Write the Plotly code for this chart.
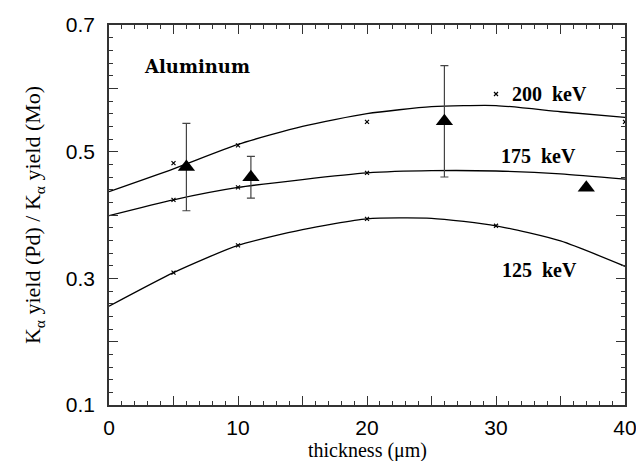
import plotly.graph_objects as go

# fitted curves
curve_x = [0, 5, 10, 15, 20, 25, 30, 35, 40]
curve_200 = [0.437, 0.473, 0.5115, 0.540, 0.560, 0.571, 0.5728, 0.563, 0.554]
curve_175 = [0.399, 0.424, 0.4435, 0.456, 0.4665, 0.470, 0.4695, 0.465, 0.4566]
curve_125 = [0.256, 0.309, 0.352, 0.377, 0.394, 0.3948, 0.383, 0.359, 0.319]

# simulation points (small x markers)
sim_x_200 = [5, 10, 20, 30, 40]
sim_y_200 = [0.482, 0.510, 0.547, 0.591, 0.547]
sim_x_175 = [5, 10, 20]
sim_y_175 = [0.424, 0.4435, 0.4665]
sim_x_125 = [5, 10, 20, 30]
sim_y_125 = [0.309, 0.352, 0.394, 0.383]

# experimental data
exp_x = [6, 11, 26, 37]
exp_y = [0.4757, 0.4595, 0.548, 0.443]
exp_err = [0.069, 0.033, 0.088, 0.0]

labels = ["200\u00a0\u00a0keV", "175\u00a0\u00a0keV", "125\u00a0\u00a0keV"]
label_x = [31.09, 30.26, 30.31]
label_y = [0.5915, 0.4924, 0.3132]

x_labeled_ticks = [0, 10, 20, 30, 40]
x_mid_ticks = [5, 15, 25, 35]
y_labeled_ticks = [0.1, 0.3, 0.5, 0.7]
y_mid_ticks = [0.2, 0.4, 0.6]

fig = go.Figure()
line_style = dict(color="black", width=1.3, shape="spline", smoothing=0.6)
for cy in (curve_200, curve_175, curve_125):
    fig.add_trace(go.Scatter(x=curve_x, y=cy, mode="lines", line=line_style,
                             hoverinfo="skip", showlegend=False))
for sx, sy in ((sim_x_200, sim_y_200), (sim_x_175, sim_y_175), (sim_x_125, sim_y_125)):
    fig.add_trace(go.Scatter(x=sx, y=sy, mode="markers",
                             marker=dict(symbol="x-thin", size=4,
                                         line=dict(color="black", width=1.2)),
                             showlegend=False))
fig.add_trace(go.Scatter(
    x=exp_x, y=exp_y, mode="markers",
    marker=dict(symbol="triangle-up", size=15, color="black"),
    error_y=dict(type="data", array=exp_err, visible=True, color="#444444",
                 thickness=1.2, width=4),
    showlegend=False))
# empty trace to carry the overlay axes used for the unlabeled major ticks
fig.add_trace(go.Scatter(x=[None], y=[None], xaxis="x2", yaxis="y2",
                         mode="markers", showlegend=False, hoverinfo="skip"))

for t, lx, ly in zip(labels, label_x, label_y):
    fig.add_annotation(x=lx, y=ly, text="<b>" + t + "</b>", showarrow=False,
                       xanchor="left", yanchor="middle",
                       font=dict(family="Liberation Serif", size=20, color="black"))
fig.add_annotation(x=2.53, y=0.634, text="<b>Aluminum</b>", showarrow=False,
                   xanchor="left", yanchor="middle",
                   font=dict(family="DejaVu Serif", size=18, color="black"))

# axis titles
fig.add_annotation(xref="paper", yref="paper", x=0.5, y=-0.121,
                   text="thickness (\u03bcm)", showarrow=False,
                   xanchor="center", yanchor="middle",
                   font=dict(family="Liberation Serif", size=20, color="black"))
fig.add_annotation(xref="paper", yref="paper", x=-0.1453, y=0.5,
                   text="K<sub>\u03b1</sub> yield (Pd) / K<sub>\u03b1</sub> yield (Mo)",
                   textangle=-90, showarrow=False,
                   xanchor="center", yanchor="middle",
                   font=dict(family="Liberation Serif", size=22, color="black"))

fig.update_layout(
    width=644, height=461,
    margin=dict(l=101, r=27, t=17, b=64, autoexpand=False),
    plot_bgcolor="white", paper_bgcolor="white",
    font=dict(family="Liberation Sans", color="black"),
)
axis_common = dict(
    showgrid=False, zeroline=False, automargin=False,
    ticks="inside", ticklen=9, tickwidth=1.2, tickcolor="#333333",
    tickfont=dict(family="Liberation Sans", size=21, color="black"),
)
fig.update_layout(
    xaxis=dict(
        range=[0, 40], **axis_common,
        showline=True, linecolor="#333333", linewidth=1.5, mirror="ticks",
        tickvals=x_labeled_ticks, ticklabelstandoff=3,
        minor=dict(dtick=1, ticklen=4, tickcolor="#333333", ticks="inside", tickwidth=1.2),
    ),
    yaxis=dict(
        range=[0.1, 0.7], **axis_common,
        showline=True, linecolor="#333333", linewidth=1.5, mirror="ticks",
        tickvals=y_labeled_ticks, tickformat=".1f", ticklabelstandoff=8,
        minor=dict(dtick=0.02, ticklen=4, tickcolor="#333333", ticks="inside", tickwidth=1.2),
    ),
    xaxis2=dict(
        range=[0, 40], overlaying="x", anchor="y2", **axis_common,
        showline=False, mirror="ticks", tickvals=x_mid_ticks, showticklabels=False,
    ),
    yaxis2=dict(
        range=[0.1, 0.7], overlaying="y", anchor="x2", **axis_common,
        showline=False, mirror="ticks", tickvals=y_mid_ticks, showticklabels=False,
    ),
)

fig.write_html("out.html")
